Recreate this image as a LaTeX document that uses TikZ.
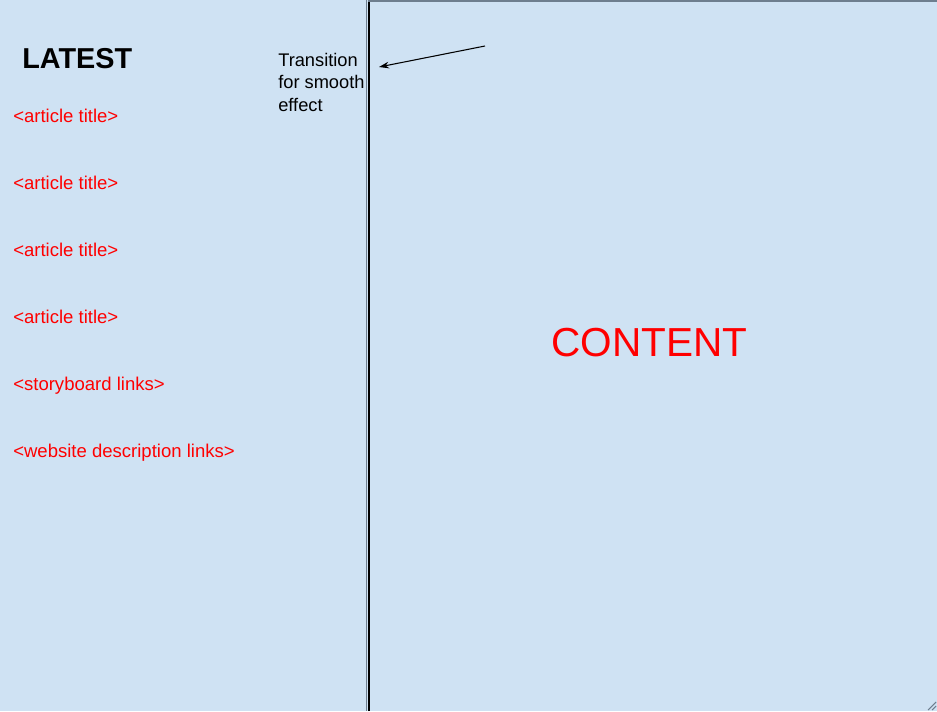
\documentclass[tikz,border=0pt]{standalone}
\usepackage{fontspec}
\setmainfont{Liberation Sans}
\usepackage{xcolor}
\usetikzlibrary{positioning, arrows.meta, calc}
\definecolor{panelbg}{HTML}{CFE2F3}
\definecolor{linkred}{HTML}{FF0000}
\definecolor{edgegray}{HTML}{6E7E8E}
\begin{document}
\begin{tikzpicture}[
  x=0.75pt, y=-0.75pt,
  heading/.style={anchor=base west, inner sep=0pt, font=\fontsize{21.6}{26}\selectfont\bfseries},
  linkitem/.style={anchor=base west, inner sep=0pt, text=linkred, font=\fontsize{13.9}{17}\selectfont},
  bigtitle/.style={anchor=base west, inner sep=0pt, text=linkred, font=\fontsize{30.4}{36}\selectfont},
  note/.style={anchor=north west, inner sep=0pt, align=left, font=\fontsize{13.7}{16.9}\selectfont},
  arrow/.style={-{Stealth[length=7.5pt, width=5pt]}, line width=0.8pt, black}
]

\fill[panelbg] (0,0) rectangle (937,711);
\useasboundingbox (0,0) rectangle (937,711);

\draw[edgegray, line width=1.2pt] (366.5,0) -- (366.5,711);
\draw[black, line width=1.2pt] (369,711) -- (369,0.5) -- (937,0.5);
\draw[edgegray, line width=0.8pt] (368,1) -- (937,1);

\node[heading] (latest) at (22,68.8) {LATEST};
\node[linkitem] (art1) at (13,122.3) {<article title>};
\node[linkitem] (art2) at (13,189.3) {<article title>};
\node[linkitem] (art3) at (13,256.3) {<article title>};
\node[linkitem] (art4) at (13,323.3) {<article title>};
\node[linkitem] (story) at (13,390.3) {<storyboard links>};
\node[linkitem] (site) at (13,457.3) {<website description links>};

\node[bigtitle] (content) at (551,356) {CONTENT};

\node[note] (trans) at (278,52.5) {Transition\\for smooth\\effect};

\coordinate (tailpt) at (485,46);
\coordinate (tippt) at (379,67);
\draw[arrow] (tailpt) -- (tippt);

\draw[edgegray, line width=0.8pt] (928,710) -- (936,702);
\draw[edgegray, line width=0.8pt] (932,710) -- (936,706);

\end{tikzpicture}
\end{document}
